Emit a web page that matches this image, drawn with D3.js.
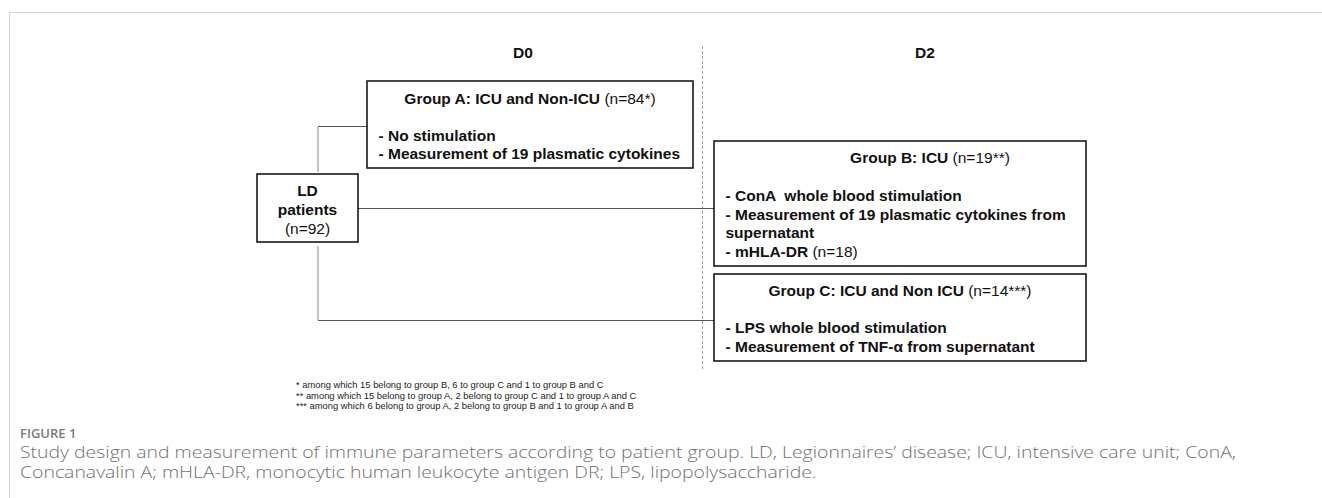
<!DOCTYPE html>
<html>
<head>
<meta charset="utf-8">
<script src="https://cdn.jsdelivr.net/npm/d3@7"></script>
<style>
  body { margin: 0; background: #fff; }
  svg { display: block; }
  svg text { white-space: pre; }
</style>
</head>
<body>
<svg id="fig"></svg>
<script>
// Text content of the flow chart
var dayLabels = ["D0", "D2"];

var groupNames = ["Group A: ICU and Non-ICU", "Group B: ICU", "Group C: ICU and Non ICU"];
var groupCounts = ["(n=84*)", "(n=19**)", "(n=14***)"];

var groupA_lines = [["- No stimulation", ""], ["- Measurement of 19 plasmatic cytokines", ""]];
var groupB_lines = [["- ConA  whole blood stimulation", ""],
                    ["- Measurement of 19 plasmatic cytokines from", ""],
                    ["supernatant", ""],
                    ["- mHLA-DR", " (n=18)"]];
var groupC_lines = [["- LPS whole blood stimulation", ""], ["- Measurement of TNF-\u03b1 from supernatant", ""]];

var ldLines = ["LD", "patients", "(n=92)"];

var footnotes = [
  "* among which 15 belong to group B, 6 to group C and 1 to group B and C",
  "** among which 15 belong to group A, 2 belong to group C and 1 to group A and C",
  "*** among which 6 belong to group A, 2 belong to group B and 1 to group A and B"
];

var figLabel = "FIGURE 1";
var captionLines = [
  "Study design and measurement of immune parameters according to patient group. LD, Legionnaires\u2019 disease; ICU, intensive care unit; ConA,",
  "Concanavalin A; mHLA-DR, monocytic human leukocyte antigen DR; LPS, lipopolysaccharide."
];

// ---- layout ----
var width = 1322, height = 498;
var font = "'Liberation Sans', Arial, sans-serif";
var fsize = '15.5px';

var svg = d3.select('#fig')
    .attr('width', width)
    .attr('height', height);

// light frame around the figure
svg.append('path')
    .attr('d', 'M9.5,498 L9.5,12.5 L1322,12.5')
    .attr('fill', 'none')
    .attr('stroke', '#d4d4d4')
    .attr('stroke-width', 1);

// boxes
var boxA = {x: 367, y: 81, w: 326, h: 87};
var boxB = {x: 714, y: 141, w: 372, h: 125};
var boxC = {x: 714, y: 274, w: 372, h: 87};
var boxLD = {x: 257, y: 174, w: 101, h: 68};

// column labels
var dayX = [523, 925];
svg.selectAll('text.day')
    .data(dayLabels)
    .enter().append('text')
    .attr('class', 'day')
    .attr('x', function(d, i) { return dayX[i]; })
    .attr('y', 58)
    .attr('text-anchor', 'middle')
    .style('font-family', font)
    .style('font-weight', 'bold')
    .style('font-size', fsize)
    .style('fill', '#111')
    .text(function(d) { return d; });

// dashed separator between days
svg.append('line')
    .attr('x1', 702.5).attr('x2', 702.5)
    .attr('y1', 46).attr('y2', 370)
    .attr('stroke', '#a0a0a0')
    .attr('stroke-width', 1)
    .attr('stroke-dasharray', '3,2');

// connectors
var links = [
  {p: [[318, 127], [318, 172]], c: '#9a9a9a'},
  {p: [[318, 126.5], [367, 126.5]], c: '#555'},
  {p: [[358, 208.5], [714, 208.5]], c: '#555'},
  {p: [[318, 246], [318, 320]], c: '#9a9a9a'},
  {p: [[318, 320.5], [714, 320.5]], c: '#555'}
];
var lineGen = d3.line();
svg.append('g')
    .selectAll('path')
    .data(links)
    .enter().append('path')
    .attr('d', function(d) { return lineGen(d.p); })
    .attr('fill', 'none')
    .attr('stroke', function(d) { return d.c; })
    .attr('stroke-width', 1.2);

// draw the rectangles
svg.append('g')
    .selectAll('rect')
    .data([boxA, boxB, boxC, boxLD])
    .enter().append('rect')
    .attr('x', function(d) { return d.x; })
    .attr('y', function(d) { return d.y; })
    .attr('width', function(d) { return d.w; })
    .attr('height', function(d) { return d.h; })
    .attr('fill', '#fff')
    .attr('stroke', '#1a1a1a')
    .attr('stroke-width', 1.6);

// Function to write a group box (title + bullet lines)
function writeGroup(box, i, lines, titleX, titleY, firstY) {
    var t = svg.append('text')
        .attr('x', titleX)
        .attr('y', titleY)
        .attr('text-anchor', 'middle')
        .style('font-family', font)
        .style('font-size', fsize)
        .style('fill', '#111');
    t.append('tspan').style('font-weight', 'bold').text(groupNames[i] + ' ');
    t.append('tspan').style('font-weight', 'normal').text(groupCounts[i]);

    svg.append('g')
        .selectAll('text')
        .data(lines)
        .enter().append('text')
        .attr('x', box.x + 11.5)
        .attr('y', function(d, k) { return firstY + k * 18.7; })
        .style('font-family', font)
        .style('font-size', fsize)
        .style('fill', '#111')
        .each(function(d) {
            var el = d3.select(this);
            el.append('tspan').style('font-weight', 'bold').text(d[0]);
            if (d[1]) el.append('tspan').style('font-weight', 'normal').text(d[1]);
        });
}

writeGroup(boxA, 0, groupA_lines, boxA.x + boxA.w / 2, 103.5, 140.5);
writeGroup(boxB, 1, groupB_lines, 930, 163, 201);
writeGroup(boxC, 2, groupC_lines, boxC.x + boxC.w / 2, 296, 333);

// LD patients box
svg.append('g')
    .selectAll('text')
    .data(ldLines)
    .enter().append('text')
    .attr('x', boxLD.x + boxLD.w / 2)
    .attr('y', function(d, i) { return 195.5 + i * 19; })
    .attr('text-anchor', 'middle')
    .style('font-family', font)
    .style('font-size', fsize)
    .style('font-weight', function(d, i) { return i < 2 ? 'bold' : 'normal'; })
    .style('fill', '#111')
    .text(function(d) { return d; });

// footnotes
svg.append('g')
    .selectAll('text')
    .data(footnotes)
    .enter().append('text')
    .attr('x', 296)
    .attr('y', function(d, i) { return 388 + i * 10.5; })
    .style('font-family', font)
    .style('font-size', '9.4px')
    .style('fill', '#222')
    .text(function(d) { return d; });

// caption
svg.append('text')
    .attr('x', 20)
    .attr('y', 438)
    .style('font-family', "'Open Sans', sans-serif")
    .style('font-size', '13px')
    .style('font-weight', 600)
    .style('fill', '#7a7a7a')
    .text(figLabel);

var cap = svg.append('g')
    .selectAll('text')
    .data(captionLines)
    .enter().append('text')
    .attr('x', 20)
    .attr('y', function(d, i) { return 458 + i * 20; })
    .style('font-family', "'Open Sans', sans-serif")
    .style('font-size', '16px')
    .style('font-weight', 300)
    .style('fill', '#707070')
    .text(function(d) { return d; });

// squeeze / stretch the caption so line 1 spans the same width as in the figure
var k = (1236 - 20) / cap.nodes()[0].getComputedTextLength();
cap.each(function() {
    var w = this.getComputedTextLength();
    d3.select(this)
        .attr('textLength', w * k)
        .attr('lengthAdjust', 'spacingAndGlyphs');
});
</script>
</body>
</html>
